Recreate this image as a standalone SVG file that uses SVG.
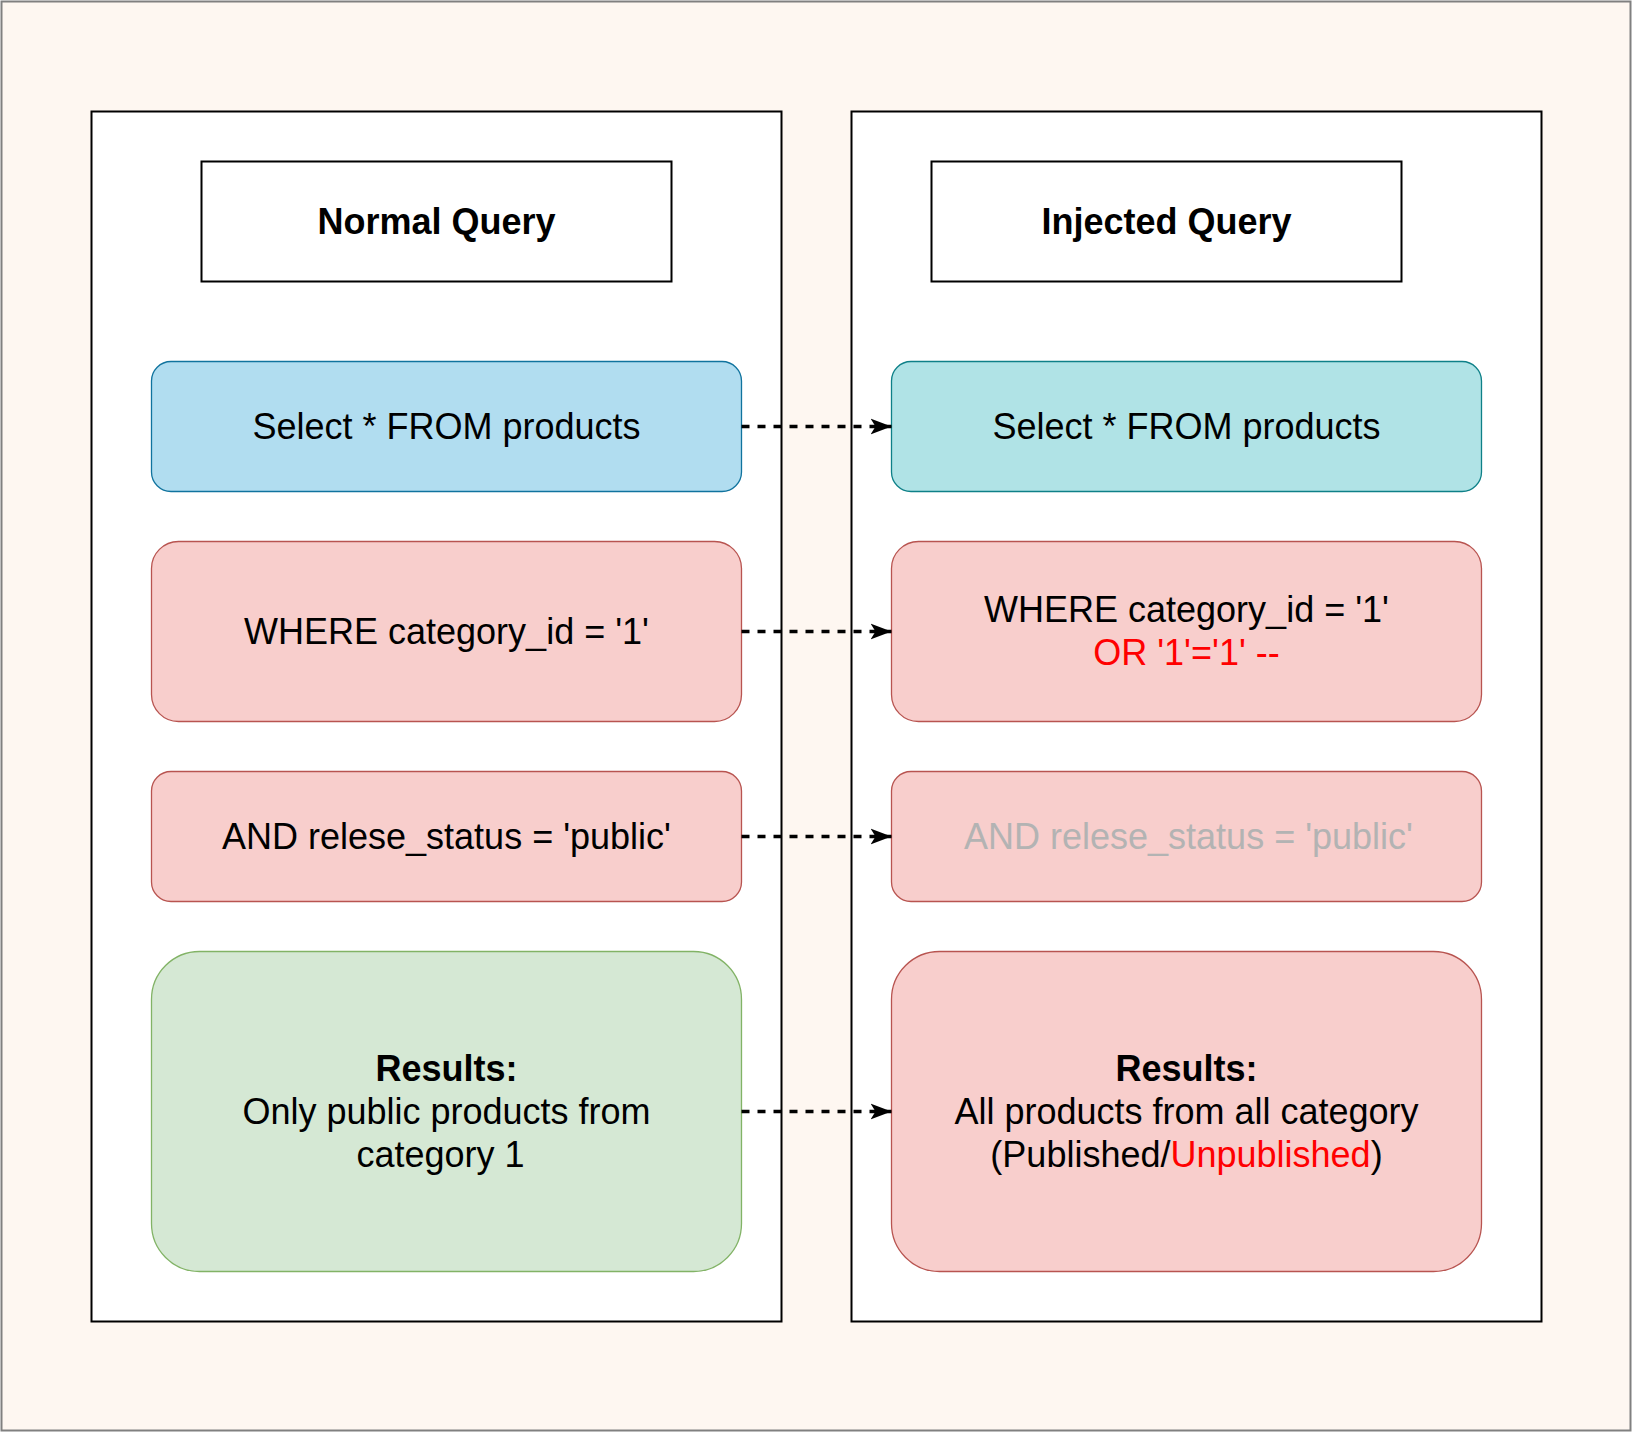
<svg xmlns="http://www.w3.org/2000/svg" width="1632" height="1432" viewBox="0 0 1632 1432">
  <style>
    .t{font-family:"Liberation Sans",Arial,Helvetica,sans-serif;font-size:36px;text-anchor:middle;fill:#000}
    .b{font-weight:bold}
    .panel{fill:#fff;stroke:#000;stroke-width:2}
    .blue{fill:#b1ddf0;stroke:#10739e;stroke-width:1.3}
    .teal{fill:#b0e3e6;stroke:#0e8088;stroke-width:1.3}
    .red{fill:#f8cecc;stroke:#b85450;stroke-width:1.3}
    .green{fill:#d5e8d4;stroke:#82b366;stroke-width:1.3}
    .conn{fill:none;stroke:#000;stroke-width:3.5;stroke-dasharray:8 8}
  </style>
  <defs>
    <marker id="arr" viewBox="0 0 21 18" refX="21" refY="9" markerWidth="21" markerHeight="18" markerUnits="userSpaceOnUse" orient="auto">
      <path d="M0,1 L21,9 L0,17 L5,9 Z" fill="#000"/>
    </marker>
  </defs>
  <rect x="1.5" y="1.5" width="1629" height="1429" fill="#fef7f1" stroke="#808080" stroke-width="2"/>
  <g id="panel-left"><rect class="panel" x="91.5" y="111.5" width="690" height="1210"/></g>
  <g id="panel-right"><rect class="panel" x="851.5" y="111.5" width="690" height="1210"/></g>
  <g id="title-normal">
    <rect class="panel" x="201.5" y="161.5" width="470" height="120"/>
    <text class="t b" x="436.5" y="234">Normal Query</text>
  </g>
  <g id="title-injected">
    <rect class="panel" x="931.5" y="161.5" width="470" height="120"/>
    <text class="t b" x="1166.5" y="234">Injected Query</text>
  </g>
  <g id="n-select-left">
    <rect class="blue" x="151.5" y="361.5" width="590" height="130" rx="19.5"/>
    <text class="t" x="446.5" y="439">Select * FROM products</text>
  </g>
  <g id="n-select-right">
    <rect class="teal" x="891.5" y="361.5" width="590" height="130" rx="19.5"/>
    <text class="t" x="1186.5" y="439">Select * FROM products</text>
  </g>
  <g id="n-where-left">
    <rect class="red" x="151.5" y="541.5" width="590" height="180" rx="27"/>
    <text class="t" x="446.5" y="644">WHERE category_id = '1'</text>
  </g>
  <g id="n-where-right">
    <rect class="red" x="891.5" y="541.5" width="590" height="180" rx="27"/>
    <text class="t" x="1186.5" y="622">WHERE category_id = '1'</text>
    <text class="t" x="1186.5" y="665" style="fill:#ff0000">OR '1'='1' --</text>
  </g>
  <g id="n-and-left">
    <rect class="red" x="151.5" y="771.5" width="590" height="130" rx="19.5"/>
    <text class="t" x="446.5" y="849">AND relese_status = 'public'</text>
  </g>
  <g id="n-and-right">
    <rect class="red" x="891.5" y="771.5" width="590" height="130" rx="19.5"/>
    <text class="t" x="1188.5" y="849" style="fill:#b3b3b3">AND relese_status = 'public'</text>
  </g>
  <g id="n-result-left">
    <rect class="green" x="151.5" y="951.5" width="590" height="320" rx="48"/>
    <text class="t b" x="446.5" y="1080.5">Results:</text>
    <text class="t" x="446.5" y="1123.5">Only public products from</text>
    <text class="t" x="440.5" y="1166.5">category 1</text>
  </g>
  <g id="n-result-right">
    <rect class="red" x="891.5" y="951.5" width="590" height="320" rx="48"/>
    <text class="t b" x="1186.5" y="1080.5">Results:</text>
    <text class="t" x="1186.5" y="1123.5">All products from all category</text>
    <text class="t" x="1186.5" y="1166.5">(Published/<tspan fill="#ff0000">Unpublished</tspan>)</text>
  </g>
  <g id="connectors">
    <line class="conn" x1="741.5" y1="426.5" x2="891.5" y2="426.5" marker-end="url(#arr)"/>
    <line class="conn" x1="741.5" y1="631.5" x2="891.5" y2="631.5" marker-end="url(#arr)"/>
    <line class="conn" x1="741.5" y1="836.5" x2="891.5" y2="836.5" marker-end="url(#arr)"/>
    <line class="conn" x1="741.5" y1="1111.5" x2="891.5" y2="1111.5" marker-end="url(#arr)"/>
  </g>
</svg>
